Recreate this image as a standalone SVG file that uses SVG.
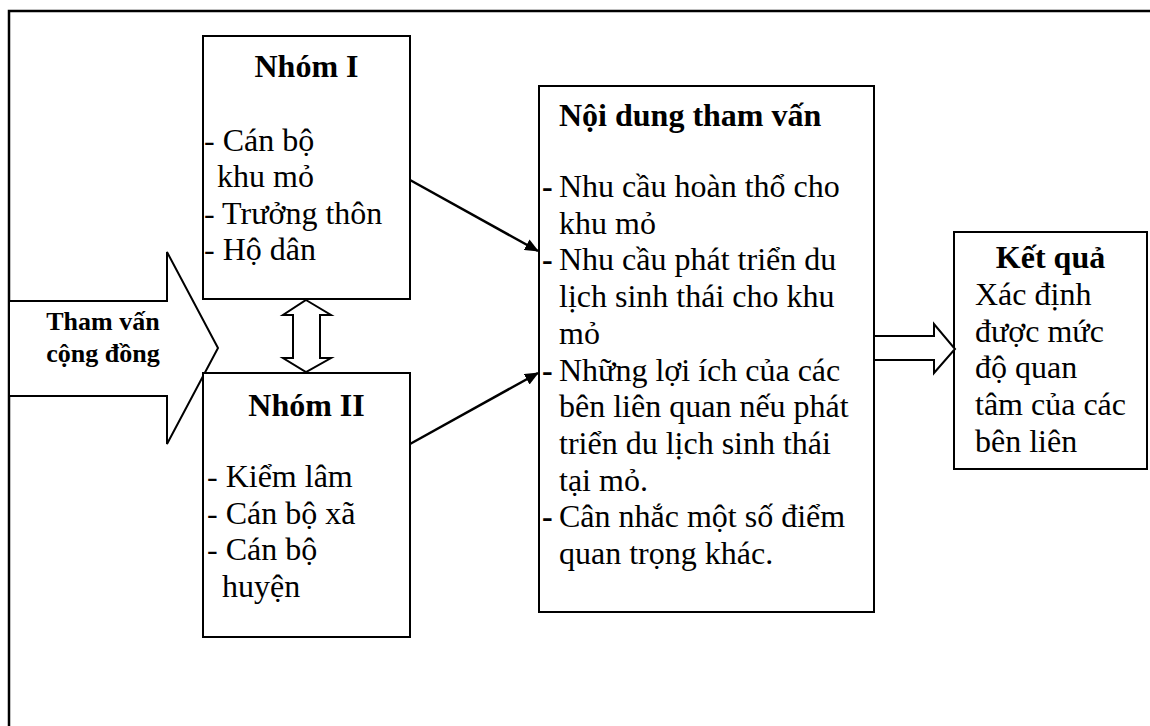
<svg xmlns="http://www.w3.org/2000/svg" width="1150" height="726" viewBox="0 0 1150 726">
  <style>
    .box { fill: #fff; stroke: #000; stroke-width: 2; }
    .shape { fill: #fff; stroke: #000; stroke-width: 2; stroke-linejoin: miter; }
    .t { font-family: "Liberation Serif", "Times New Roman", serif; font-size: 32px; fill: #000; }
    .b { font-weight: bold; }
    .mid { text-anchor: middle; }
    .link { stroke: #000; stroke-width: 2.5; fill: none; marker-end: url(#head); }
  </style>
  <defs>
    <marker id="head" markerWidth="14" markerHeight="12" refX="13" refY="6" orient="auto" markerUnits="userSpaceOnUse">
      <path d="M0,0 L14,6 L0,12 Z" fill="#000"/>
    </marker>
  </defs>

  <rect width="1150" height="726" fill="#fff"/>
  <!-- outer frame (open to the right and bottom) -->
  <rect x="9" y="11" width="1160" height="740" fill="none" stroke="#000" stroke-width="2.5"/>

  <!-- community consultation block arrow -->
  <g id="tham-van">
    <polygon class="shape" points="9,301 167,301 167,252 218,348 167,444 167,396 9,396"/>
    <text class="t b mid" style="font-size:26px" x="103" y="330">Tham vấn</text>
    <text class="t b mid" style="font-size:26px" x="103" y="362">cộng đồng</text>
  </g>

  <g id="nhom-1">
    <rect class="box" x="203" y="36" width="207" height="263"/>
    <text class="t b mid" x="306.5" y="77">Nhóm I</text>
    <text class="t" x="204" y="151">- Cán bộ</text>
    <text class="t" x="217" y="187">khu mỏ</text>
    <text class="t" x="204" y="223.5">- Trưởng thôn</text>
    <text class="t" x="204" y="260">- Hộ dân</text>
  </g>

  <g id="nhom-2">
    <rect class="box" x="203" y="373" width="207" height="264"/>
    <text class="t b mid" x="306.5" y="416">Nhóm II</text>
    <text class="t" x="207" y="487">- Kiểm lâm</text>
    <text class="t" x="207" y="523.5">- Cán bộ xã</text>
    <text class="t" x="207" y="560">- Cán bộ</text>
    <text class="t" x="222" y="596.5">huyện</text>
  </g>

  <g id="noi-dung">
    <rect class="box" x="539" y="86" width="335" height="526"/>
    <text class="t b" x="559" y="126">Nội dung tham vấn</text>
    <text class="t" y="197"><tspan class="b" x="542">-</tspan><tspan x="559">Nhu cầu hoàn thổ cho</tspan></text>
    <text class="t" x="559" y="233.7">khu mỏ</text>
    <text class="t" y="270.4"><tspan class="b" x="542">-</tspan><tspan x="559">Nhu cầu phát triển du</tspan></text>
    <text class="t" x="559" y="307.1">lịch sinh thái cho khu</text>
    <text class="t" x="559" y="343.8">mỏ</text>
    <text class="t" y="380.5"><tspan class="b" x="542">-</tspan><tspan x="559">Những lợi ích của các</tspan></text>
    <text class="t" x="559" y="417.2">bên liên quan nếu phát</text>
    <text class="t" x="559" y="453.9">triển du lịch sinh thái</text>
    <text class="t" x="559" y="490.6">tại mỏ.</text>
    <text class="t" y="527.3"><tspan class="b" x="542">-</tspan><tspan x="559">Cân nhắc một số điểm</tspan></text>
    <text class="t" x="559" y="564">quan trọng khác.</text>
  </g>

  <g id="ket-qua">
    <rect class="box" x="954" y="232" width="193" height="237"/>
    <text class="t b mid" x="1050.5" y="268">Kết quả</text>
    <text class="t" x="975" y="305">Xác định</text>
    <text class="t" x="975" y="341.7">được mức</text>
    <text class="t" x="975" y="378.4">độ quan</text>
    <text class="t" x="975" y="415.1">tâm của các</text>
    <text class="t" x="975" y="451.8">bên liên</text>
  </g>

  <g id="connectors">
    <!-- two-way block arrow between the groups -->
    <polygon class="shape" stroke-width="1.5" points="306,300 331,315 320,315 320,358 331,358 306,372 283,358 293,358 293,315 283,315"/>
    <!-- groups to consultation content -->
    <line class="link" x1="410" y1="180" x2="538" y2="251"/>
    <line class="link" x1="410" y1="444" x2="538" y2="373"/>
    <!-- content to result block arrow -->
    <polygon class="shape" stroke-width="1.5" points="874,336 934,336 934,324 955,349 934,373 934,360 874,360"/>
  </g>
</svg>
